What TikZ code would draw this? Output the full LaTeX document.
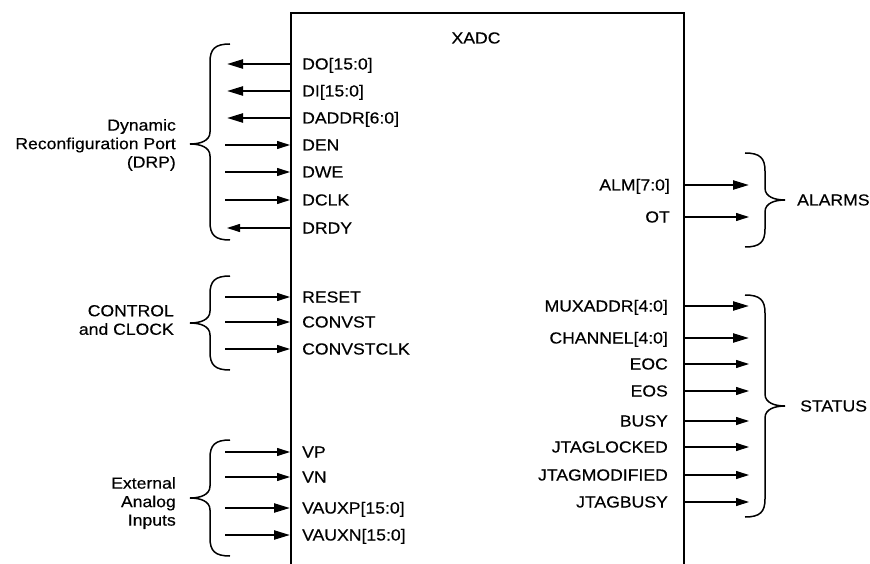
\documentclass[tikz,border=0pt]{standalone}
\usepackage{fontspec}
\setmainfont[FakeStretch=1.1,FakeBold=0.4]{Liberation Sans}
\usepackage{tikz}
\usetikzlibrary{arrows.meta,positioning}

% curly braces: x of the open ends, top y, tip y, bottom y
\newcommand{\curlleft}[4]{%
  \draw[curl] (#1,#2) .. controls (#1-15,#2) and (#1-20,#2+5) .. (#1-20,#2+18)
    -- (#1-20,#3-12) .. controls (#1-20,#3-3) and (#1-30,#3) .. (#1-40,#3)
    .. controls (#1-30,#3) and (#1-20,#3+3) .. (#1-20,#3+12)
    -- (#1-20,#4-18) .. controls (#1-20,#4-5) and (#1-15,#4) .. (#1,#4);}
\newcommand{\curlright}[4]{%
  \draw[curl] (#1,#2) .. controls (#1+15,#2) and (#1+20,#2+5) .. (#1+20,#2+18)
    -- (#1+20,#3-12) .. controls (#1+20,#3-3) and (#1+30,#3) .. (#1+40,#3)
    .. controls (#1+30,#3) and (#1+20,#3+3) .. (#1+20,#3+12)
    -- (#1+20,#4-18) .. controls (#1+20,#4-5) and (#1+15,#4) .. (#1,#4);}

\begin{document}
\begin{tikzpicture}[
    x=1pt, y=-1pt,
    sig/.style={font={\fontsize{16}{18.5}\selectfont}, inner sep=0pt, text height=11pt, text depth=0pt},
    lsig/.style={sig, anchor=west},
    rsig/.style={sig, anchor=east},
    group/.style={font={\fontsize{16}{18.5}\selectfont}, inner sep=0pt, align=right},
    wire/.style={line width=1.1pt, -{Triangle[length=13pt,width=8pt]}},
    bus/.style={line width=2.2pt, -{Triangle[length=16pt,width=9pt]}},
    curl/.style={line width=1.5pt}
]
\useasboundingbox (0,0) rectangle (870,564);

\node[draw, line width=2pt, anchor=north west, inner sep=0pt,
      minimum width=393pt, minimum height=600pt] (xadc) at (290,12) {};
\node[sig] (title) at (476,38) {XADC};

% DRP
\node[lsig] (do) at (302,64) {DO[15:0]};
\node[lsig] (di) at (302,91) {DI[15:0]};
\node[lsig] (daddr) at (302,118) {DADDR[6:0]};
\node[lsig] (den) at (302,145) {DEN};
\node[lsig] (dwe) at (302,172) {DWE};
\node[lsig] (dclk) at (302,200) {DCLK};
\node[lsig] (drdy) at (302,228) {DRDY};

\draw[bus] (xadc.west |- do) -- ++(-63,0);
\draw[bus] (xadc.west |- di) -- ++(-63,0);
\draw[bus] (xadc.west |- daddr) -- ++(-63,0);
\draw[wire] (xadc.west |- den) ++(-65,0) -- (xadc.west |- den);
\draw[wire] (xadc.west |- dwe) ++(-65,0) -- (xadc.west |- dwe);
\draw[wire] (xadc.west |- dclk) ++(-65,0) -- (xadc.west |- dclk);
\draw[wire] (xadc.west |- drdy) -- ++(-63,0);

\curlleft{230}{44}{144}{240}
\node[group, anchor=east] (drp) at (176,145) {Dynamic\\Reconfiguration Port\\(DRP)};

% control and clock
\node[lsig] (reset) at (302,297) {RESET};
\node[lsig] (convst) at (302,322) {CONVST};
\node[lsig] (convstclk) at (302,349) {CONVSTCLK};

\draw[wire] (xadc.west |- reset) ++(-65,0) -- (xadc.west |- reset);
\draw[wire] (xadc.west |- convst) ++(-65,0) -- (xadc.west |- convst);
\draw[wire] (xadc.west |- convstclk) ++(-65,0) -- (xadc.west |- convstclk);

\curlleft{230}{276}{323}{370}
\node[group, anchor=east] (ctrl) at (174,320) {CONTROL\\and CLOCK};

% analog inputs
\node[lsig] (vp) at (302,452) {VP};
\node[lsig] (vn) at (302,477) {VN};
\node[lsig] (vauxp) at (302,508) {VAUXP[15:0]};
\node[lsig] (vauxn) at (302,535) {VAUXN[15:0]};

\draw[wire] (xadc.west |- vp) ++(-65,0) -- (xadc.west |- vp);
\draw[wire] (xadc.west |- vn) ++(-65,0) -- (xadc.west |- vn);
\draw[bus] (xadc.west |- vauxp) ++(-65,0) -- (xadc.west |- vauxp);
\draw[bus] (xadc.west |- vauxn) ++(-65,0) -- (xadc.west |- vauxn);

\curlleft{230}{440}{498}{556}
\node[group, anchor=east] (analog) at (176,503) {External\\Analog\\Inputs};

% alarms
\node[rsig] (alm) at (670,185) {ALM[7:0]};
\node[rsig] (ot) at (670,217) {OT};

\draw[bus] (xadc.east |- alm) -- ++(64,0);
\draw[wire] (xadc.east |- ot) -- ++(64,0);

\curlright{745}{153}{200}{247}
\node[sig, anchor=west] (alarms) at (797,200) {ALARMS};

% status
\node[rsig] (muxaddr) at (668,306) {MUXADDR[4:0]};
\node[rsig] (channel) at (668,338) {CHANNEL[4:0]};
\node[rsig] (eoc) at (668,364) {EOC};
\node[rsig] (eos) at (668,391) {EOS};
\node[rsig] (busy) at (668,421) {BUSY};
\node[rsig] (jtaglocked) at (668,447) {JTAGLOCKED};
\node[rsig] (jtagmodified) at (668,475) {JTAGMODIFIED};
\node[rsig] (jtagbusy) at (668,502) {JTAGBUSY};

\draw[bus] (xadc.east |- muxaddr) -- ++(64,0);
\draw[bus] (xadc.east |- channel) -- ++(64,0);
\draw[wire] (xadc.east |- eoc) -- ++(64,0);
\draw[wire] (xadc.east |- eos) -- ++(64,0);
\draw[wire] (xadc.east |- busy) -- ++(64,0);
\draw[wire] (xadc.east |- jtaglocked) -- ++(64,0);
\draw[wire] (xadc.east |- jtagmodified) -- ++(64,0);
\draw[wire] (xadc.east |- jtagbusy) -- ++(64,0);

\curlright{745}{295}{406}{517}
\node[sig, anchor=west] (status) at (800,406) {STATUS};
\end{tikzpicture}
\end{document}
